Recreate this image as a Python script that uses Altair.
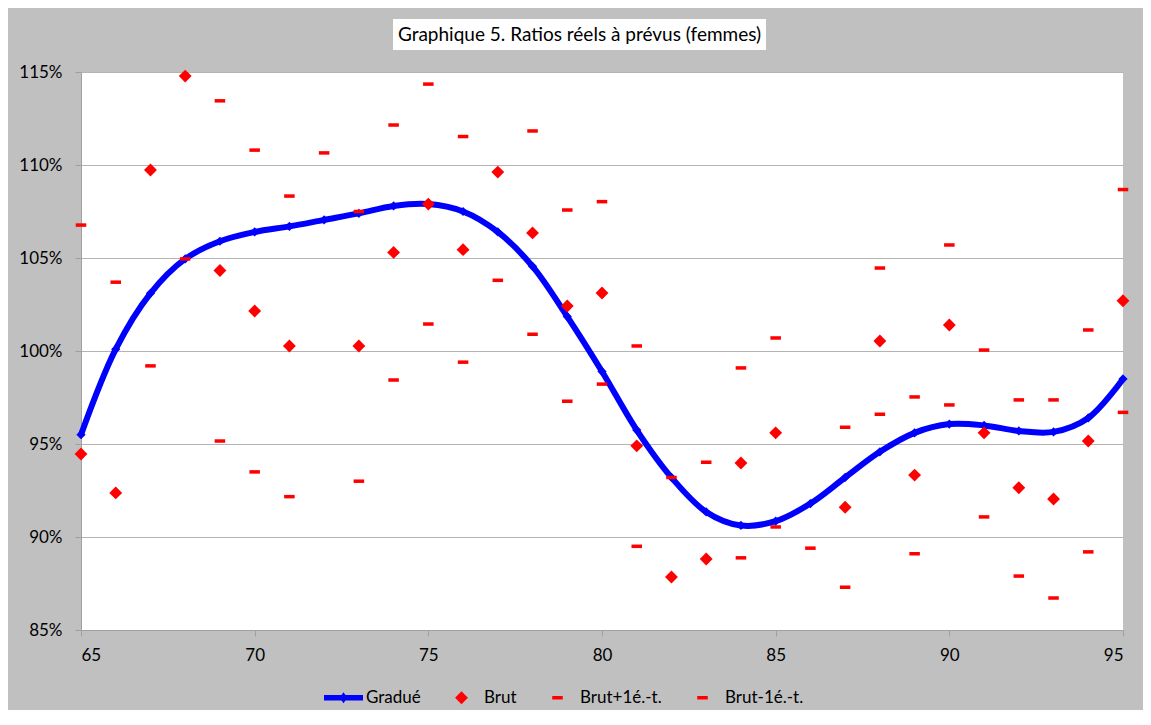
import altair as alt
import pandas as pd

# ---- data ----
ages = list(range(65, 96))
gradue = [95.5, 100.1, 103.1, 104.95, 105.9, 106.4, 106.7, 107.05, 107.4, 107.8,
          107.9, 107.5, 106.4, 104.55, 101.85, 98.9, 95.75, 93.2, 91.35, 90.62,
          90.85, 91.8, 93.2, 94.58, 95.6, 96.07, 96.0, 95.7, 95.65, 96.4, 98.5]
brut = [94.46, 92.37, 109.73, 114.78, 104.33, 102.15, 100.27, None, 100.27, 105.3,
        107.9, 105.45, 109.62, 106.35, 102.42, 103.12, 94.9, 87.85, 88.82, 93.98,
        95.6, None, 91.6, 100.54, 93.33, 101.4, 95.6, 92.65, 92.04, 95.16, 102.7]
brut_plus = [106.77, 103.7, None, None, 113.45, 110.8, 108.33, 110.65, 107.5, 112.15,
             114.35, 111.53, None, 111.83, 107.58, 108.03, 100.27, 93.2, 94.02, 99.09,
             100.7, None, 95.9, 104.46, 97.53, 105.7, 100.05, 97.37, 97.37, 101.13, 108.68]
brut_minus = [None, None, 99.2, 104.95, 95.16, 93.5, 92.17, None, 93.0, 98.44,
              101.45, 99.4, 103.8, 100.9, 97.3, 98.22, 89.5, None, None, 88.88,
              90.54, 89.4, 87.3, 96.6, 89.1, 97.1, 91.08, 87.9, 86.72, 89.2, 96.7]

series_names = ["Gradué", "Brut", "Brut+1é.-t.", "Brut-1é.-t."]
series_colors = ["#0000FF", "#FF0000", "#FF0000", "#FF0000"]
series_shapes = [
    "M-1,-0.14H1V0.14H-1Z M0,-0.28L0.2,0L0,0.28L-0.2,0Z",
    "M0,-0.33L0.33,0L0,0.33L-0.33,0Z",
    "M-0.27,-0.09H0.27V0.09H-0.27Z",
    "M-0.27,-0.09H0.27V0.09H-0.27Z",
]
x_ticks = [65, 70, 75, 80, 85, 90, 95]
y_ticks = [0.85, 0.90, 0.95, 1.00, 1.05, 1.10, 1.15]
title_text = "Graphique 5. Ratios réels à prévus (femmes)"

# ---- tables ----
line_df = pd.DataFrame({"age": ages, "ratio": [v / 100 for v in gradue], "serie": "Gradué"})
rows = []
for name, vals in [("Brut", brut), ("Brut+1é.-t.", brut_plus), ("Brut-1é.-t.", brut_minus)]:
    for a, v in zip(ages, vals):
        if v is not None:
            rows.append({"age": a, "ratio": v / 100, "serie": name})
pts_df = pd.DataFrame(rows)

FONT = "Lato"

x_enc = alt.X("age:Q",
              scale=alt.Scale(domain=[65, 95], nice=False, zero=False),
              axis=alt.Axis(values=x_ticks, title=None, grid=False, tickSize=6,
                            labelPadding=11, format="d"))
y_enc = alt.Y("ratio:Q",
              scale=alt.Scale(domain=[0.85, 1.15], nice=False, zero=False),
              axis=alt.Axis(values=y_ticks, format=".0%", title=None, grid=True,
                            tickSize=6, labelPadding=13))

leg = alt.Legend(orient="none", legendX=243, legendY=606, direction="horizontal",
                 title=None, symbolSize=1521, labelOffset=3, columnPadding=21,
                 labelFontSize=17, labelFont=FONT, labelColor="black",
                 symbolStrokeWidth=0)

box = alt.Chart(alt.Data(values=[{"k": 1}])).mark_rect(color="white").encode(
    x=alt.value(312), x2=alt.value(685), y=alt.value(-53), y2=alt.value(-22))

title_mark = alt.Chart(alt.Data(values=[{"t": title_text}])).mark_text(
    font=FONT, fontSize=19, color="black", align="center", baseline="middle"
).encode(x=alt.value(498.5), y=alt.value(-37), text="t:N")

line = alt.Chart(line_df).mark_line(color="#0000FF", strokeWidth=6,
                                    interpolate="catmull-rom").encode(x=x_enc, y=y_enc)
markers = alt.Chart(line_df).mark_point(filled=True, shape="diamond", size=85,
                                        color="#0000FF", opacity=1).encode(x=x_enc, y=y_enc)
points = alt.Chart(pts_df).mark_point(filled=True, size=1521, opacity=1, strokeWidth=0).encode(
    x=x_enc, y=y_enc,
    color=alt.Color("serie:N", scale=alt.Scale(domain=series_names, range=series_colors), legend=leg),
    shape=alt.Shape("serie:N", scale=alt.Scale(domain=series_names, range=series_shapes), legend=leg),
)

chart = alt.layer(box, title_mark, line, markers, points).properties(
    width=1042, height=558,
    padding={"left": 73, "top": 64, "right": 20, "bottom": 80},
    autosize=alt.AutoSizeParams(type="none"),
).configure(background="#C0C0C0").configure_view(
    fill="white", stroke=None
).configure_axis(
    labelFont=FONT, labelFontSize=17, labelColor="black",
    domainColor="#A0A0A0", tickColor="#A0A0A0", gridColor="#B4B4B4"
)

chart.save("out.html", embed_options={"renderer": "svg", "actions": False})
